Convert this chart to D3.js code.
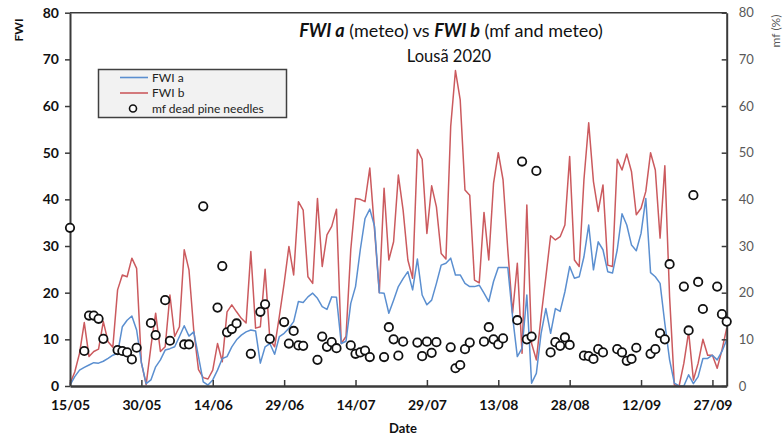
<!DOCTYPE html>
<html><head><meta charset="utf-8">
<script src="https://cdn.jsdelivr.net/npm/d3@7"></script>
<style>
html,body{margin:0;padding:0;background:#fff;}
svg{display:block;font-family:Lato,"Liberation Sans",Arial,sans-serif;}
</style></head>
<body><svg id="c" width="783" height="436"></svg>
<script>
// ---- data ----
const startDate = "15/05/2020";
const endDate = "30/09/2020";
const xTickLabels = ["15/05","30/05","14/06","29/06","14/07","29/07","13/08","28/08","12/09","27/09"];
const yTicks = [0,10,20,30,40,50,60,70,80];
const seriesNames = ["FWI a","FWI b","mf dead pine needles"];

// daily values, 15/05 .. 30/09
const fwiA = [0.2,2,3.4,4,4.5,5,4.9,5.3,5.9,6.6,7,12.7,14.1,15,12,5,0.5,1.3,4.1,5.6,
7.7,8,8.4,10.6,12.9,10.7,11.6,6.3,0.9,0.2,1.3,3.4,5.9,6.3,8.4,9.9,10.9,11.6,12,11.8,
4.9,8.4,9.1,6.8,10.6,11.3,12.4,13.8,18.1,17.9,19.1,19.9,18.8,17,16.4,19.1,19,9.1,9.6,17.7,
21.3,29.2,35.9,37.9,34.2,20,19.9,15.6,18.4,21.3,23,24.5,20.6,27.2,19.5,17.4,18.4,22,25.9,26.3,
27.4,23.8,23.8,22,21.3,21.3,21.6,19.9,18.1,22.4,25.4,25.4,25.4,14.9,6.3,8.1,19.5,0.6,2.7,11.3,
16.6,11.3,16.6,16,20.2,25.6,23.1,23.4,27.7,34.5,24.9,30.9,29.2,24.5,24.2,29.2,36.9,34.5,30.2,29,
32.7,40.2,24.3,23.4,22,13.4,5.6,0.6,0,0,2.4,0.5,2,5.9,5.9,6.6,5.6,7.4,9.9];

const fwiB = [0.5,3,7,13.6,6.3,7.4,7.9,13.8,9.5,8.3,20.6,23.8,23.4,27.4,25.2,5,0.3,8.4,15.6,7.4,
8.4,19.5,10.6,12.7,29.2,24.9,12,3.5,1.8,1.5,3.4,9.1,5.2,15.9,17.4,15.9,14.5,13.5,28.8,12.4,
12.7,25,10,8.4,15,22,29.9,23.8,39.5,37.7,23.4,22,40.2,25.6,32.4,34.2,37.9,9.1,10.6,29.2,
40.2,40,39.5,46.7,33.4,20,42.4,27,30.9,45.2,37.7,27,23.1,50.7,48.6,32.7,42.9,38.4,28.4,27.2,
55.6,67.6,61.3,42,40.9,22.7,22.1,37.2,27,43.4,50,44.2,29.2,15.6,26.3,7,38.8,9.1,5.6,14.9,
23.4,32.2,31.3,32,34.5,49.2,27,25.6,44.2,56.4,43.8,37.4,43.1,25.9,25.6,48.6,46.3,49.7,45.9,36.7,
38.1,41.7,50,46.3,31.7,47.2,19.1,0.2,0,4.9,11.6,1.3,4.9,10,6.6,6.6,3.8,7.7,12.4];

const mfDates = ["15/05","18/05","19/05","20/05","21/05","22/05","25/05","26/05","27/05","28/05","29/05",
"01/06","02/06","04/06","05/06","08/06","09/06","12/06","15/06","16/06","17/06","18/06","19/06",
"22/06","24/06","25/06","26/06","29/06","30/06","01/07","02/07","03/07","06/07","07/07","08/07","09/07","10/07",
"13/07","14/07","15/07","16/07","17/07","20/07","21/07","22/07","23/07","24/07","27/07","28/07","29/07","30/07","31/07",
"03/08","04/08","05/08","06/08","07/08","10/08","11/08","12/08","13/08","14/08","17/08","18/08","19/08","20/08","21/08",
"24/08","25/08","26/08","27/08","28/08","31/08","01/09","02/09","03/09","04/09","07/09","08/09","09/09","10/09","11/09",
"14/09","15/09","16/09","17/09","18/09","21/09","22/09","23/09","24/09","25/09","28/09","29/09","30/09"];
const mfValues = [33.9,7.5,15.1,15.1,14.4,10.1,7.7,7.5,7.2,5.7,8.2,
13.5,10.9,18.4,9.7,8.9,8.9,38.5,16.8,25.7,11.5,12.2,13.4,
6.9,15.9,17.5,10.1,13.7,9.1,11.8,8.7,8.6,5.6,10.6,8.4,9.4,8.1,
8.7,6.9,7.2,7.6,6.2,6.2,12.6,10,6.5,9.5,9.3,6.4,9.5,7.1,9.4,
8.3,3.8,4.5,7.9,9.3,9.5,12.6,10,8.9,10.2,14.1,48.1,10,10.6,46.1,
7.2,9.4,8.6,10.4,8.8,6.5,6.4,5.8,7.9,7.2,7.9,7.2,5.4,5.8,8.2,
6.9,7.9,11.3,10,26.1,21.3,11.9,40.9,22.3,16.5,21.3,15.4,13.8];

// ---- drawing ----
const parse = d3.timeParse("%d/%m/%Y");
const t0 = parse(startDate), t1 = parse(endDate);
const days = fwiA.map((_, i) => d3.timeDay.offset(t0, i));
const mfDays = mfDates.map(s => parse(s + "/2020"));
const tickDates = xTickLabels.map(s => parse(s + "/2020"));

const L = 70, R = 726.7, T = 12.7, B = 386;
const x = d3.scaleTime().domain([t0, t1]).range([L, R]);
const y = d3.scaleLinear().domain([0, 80]).range([B, T]);

const svg = d3.select("#c");
svg.append("rect").attr("width",783).attr("height",436).attr("fill","#fff");

const colA = "#5b8fd0", colB = "#cb5a5e", axisCol = "#3a3a3a";
const ff = "Lato,'Liberation Sans',Arial,sans-serif";

// lines
const line = d3.line().x((d,i) => x(days[i])).y(d => y(d));
svg.append("path").datum(fwiB).attr("d", line).attr("fill","none")
  .attr("stroke", colB).attr("stroke-width", 1.5).attr("stroke-linejoin","round");
svg.append("path").datum(fwiA).attr("d", line).attr("fill","none")
  .attr("stroke", colA).attr("stroke-width", 1.5).attr("stroke-linejoin","round");

// frame top
svg.append("line").attr("x1",L).attr("x2",R).attr("y1",T).attr("y2",T)
  .attr("stroke",axisCol).attr("stroke-width",1.5);

// left axis
const gL = svg.append("g").attr("transform",`translate(${L},0)`)
  .call(d3.axisLeft(y).tickValues(yTicks).tickSize(5).tickSizeOuter(0).tickPadding(6));
gL.select(".domain").attr("stroke",axisCol).attr("stroke-width",2);
gL.selectAll(".tick line").attr("stroke",axisCol).attr("stroke-width",1.5);
gL.selectAll(".tick text").attr("font-size",14).attr("font-weight","bold").attr("fill","#111")
  .attr("font-family",ff);

// right axis
const gR = svg.append("g").attr("transform",`translate(${R},0)`)
  .call(d3.axisRight(y).tickValues(yTicks).tickSize(-5).tickSizeOuter(0).tickPadding(12));
gR.select(".domain").attr("stroke",axisCol).attr("stroke-width",2);
gR.selectAll(".tick line").attr("stroke",axisCol).attr("stroke-width",1.5);
gR.selectAll(".tick text").attr("font-size",13).attr("fill","#595959")
  .attr("font-family",ff);

// bottom axis
const gB = svg.append("g").attr("transform",`translate(0,${B})`)
  .call(d3.axisBottom(x).tickValues(tickDates).tickSize(-6).tickSizeOuter(0).tickPadding(14)
    .tickFormat((d,i) => xTickLabels[i]));
gB.select(".domain").attr("stroke",axisCol).attr("stroke-width",2.5);
gB.selectAll(".tick line").attr("stroke",axisCol).attr("stroke-width",1.5);
gB.selectAll(".tick text").attr("font-size",14).attr("font-weight","bold").attr("fill","#111")
  .attr("font-family",ff);

// mf points
svg.append("g").selectAll("circle").data(mfValues).join("circle")
  .attr("cx",(d,i) => x(mfDays[i])).attr("cy", d => y(d)).attr("r",4.2)
  .attr("fill","#fff").attr("stroke","#111").attr("stroke-width",1.8);

// axis titles
svg.append("text").attr("transform","translate(23,30) rotate(-90)").attr("text-anchor","middle")
  .attr("font-size",12).attr("font-weight","bold").attr("fill","#111").text("FWI");
svg.append("text").attr("transform","translate(780,31) rotate(-90)").attr("text-anchor","middle")
  .attr("font-size",12).attr("fill","#595959").text("mf (%)");
svg.append("text").attr("x",403).attr("y",433).attr("text-anchor","middle")
  .attr("font-size",13).attr("font-weight","bold").attr("fill","#111").text("Date");

// title
const tt = svg.append("text").attr("x",451).attr("y",37).attr("text-anchor","middle")
  .attr("font-size",18).attr("fill","#111");
tt.append("tspan").attr("font-weight","bold").attr("font-style","italic").text("FWI a");
tt.append("tspan").text(" (meteo) vs ");
tt.append("tspan").attr("font-weight","bold").attr("font-style","italic").text("FWI b");
tt.append("tspan").text(" (mf and meteo)");
svg.append("text").attr("x",449).attr("y",62).attr("text-anchor","middle")
  .attr("font-size",16.5).attr("fill","#111").text("Lousã 2020");

// legend
const lg = svg.append("g");
lg.append("rect").attr("x",98.5).attr("y",69.5).attr("width",188).attr("height",48)
  .attr("fill","#f2f2f2").attr("stroke","#404040").attr("stroke-width",1.5);
const ly = [77.5, 93, 108.5];
lg.append("line").attr("x1",120).attr("x2",148).attr("y1",ly[0]).attr("y2",ly[0])
  .attr("stroke",colA).attr("stroke-width",1.6);
lg.append("line").attr("x1",120).attr("x2",148).attr("y1",ly[1]).attr("y2",ly[1])
  .attr("stroke",colB).attr("stroke-width",1.6);
lg.append("circle").attr("cx",133).attr("cy",ly[2]).attr("r",3.5)
  .attr("fill","#fff").attr("stroke","#111").attr("stroke-width",1.6);
seriesNames.forEach((s,i) => {
  lg.append("text").attr("x",152).attr("y",ly[i]+4).attr("font-size",12)
    .attr("fill","#222").text(s);
});
</script></body></html>
